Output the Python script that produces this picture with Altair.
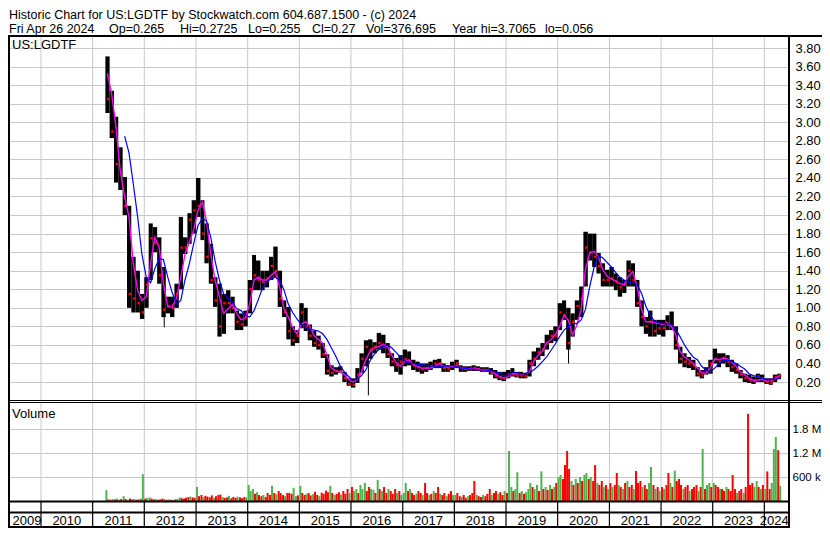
import altair as alt
import pandas as pd

FONT = "Liberation Sans"

# ---------------- monthly price bars, Apr 2011 .. Apr 2024 ----------------
first_month = "2011-04-01"
last_day = "2024-04-27"

price_high = [
    3.71, 3.34, 3.06, 2.73, 2.41, 2.10, 1.55, 1.40, 1.15,                      # 2011 Apr-Dec
    1.33, 1.91, 1.87, 1.76, 1.44, 1.12, 1.12, 1.26, 1.98, 1.76, 2.02, 2.16,    # 2012
    2.40, 2.16, 1.91, 1.69, 1.33, 1.26, 1.15, 1.19, 1.12, 0.97, 0.94, 0.97,    # 2013
    1.30, 1.57, 1.51, 1.40, 1.40, 1.55, 1.66, 1.40, 1.08, 1.01, 0.80, 0.76,    # 2014
    1.05, 1.00, 0.82, 0.75, 0.70, 0.62, 0.50, 0.38, 0.36, 0.37, 0.31, 0.24,    # 2015
    0.24, 0.35, 0.51, 0.65, 0.66, 0.63, 0.73, 0.71, 0.62, 0.51, 0.46, 0.49,    # 2016
    0.55, 0.53, 0.44, 0.42, 0.40, 0.40, 0.42, 0.44, 0.45, 0.40, 0.38, 0.42,    # 2017
    0.44, 0.38, 0.37, 0.37, 0.38, 0.37, 0.36, 0.36, 0.35, 0.33, 0.31, 0.31,    # 2018
    0.33, 0.35, 0.31, 0.31, 0.30, 0.44, 0.53, 0.57, 0.62, 0.71, 0.76, 0.80,    # 2019
    1.05, 1.08, 1.00, 0.94, 1.08, 1.23, 1.82, 1.80, 1.80, 1.59, 1.48, 1.41,    # 2020
    1.44, 1.37, 1.33, 1.30, 1.51, 1.48, 1.30, 1.08, 0.90, 0.97, 0.87, 0.87,    # 2021
    0.87, 0.92, 0.96, 0.80, 0.58, 0.51, 0.47, 0.44, 0.36, 0.33, 0.36, 0.44,    # 2022
    0.56, 0.51, 0.51, 0.49, 0.44, 0.40, 0.33, 0.29, 0.28, 0.26, 0.29, 0.28,    # 2023
    0.24, 0.24, 0.28, 0.29,                                                    # 2024 Jan-Apr
]
price_low = [
    3.10, 2.83, 2.35, 2.27, 2.00, 1.00, 0.95, 0.95, 0.88,
    1.00, 1.30, 1.60, 1.26, 0.90, 0.94, 0.90, 1.00, 1.20, 1.58, 1.69, 1.80,
    1.98, 1.73, 1.48, 1.26, 1.01, 0.69, 0.72, 0.94, 0.94, 0.76, 0.76, 0.80,
    0.94, 1.19, 1.19, 1.19, 1.22, 1.30, 1.33, 1.01, 0.90, 0.66, 0.59, 0.62,
    0.78, 0.75, 0.65, 0.58, 0.55, 0.46, 0.28, 0.26, 0.28, 0.30, 0.20, 0.16,
    0.14, 0.19, 0.30, 0.37, 0.45, 0.51, 0.55, 0.51, 0.46, 0.37, 0.31, 0.28,
    0.37, 0.38, 0.33, 0.31, 0.29, 0.31, 0.33, 0.35, 0.35, 0.31, 0.31, 0.33,
    0.35, 0.31, 0.31, 0.32, 0.32, 0.32, 0.31, 0.31, 0.28, 0.24, 0.22, 0.21,
    0.24, 0.26, 0.25, 0.24, 0.24, 0.26, 0.37, 0.44, 0.48, 0.55, 0.62, 0.64,
    0.76, 0.87, 0.55, 0.69, 0.87, 0.90, 1.23, 1.51, 1.44, 1.37, 1.23, 1.23,
    1.23, 1.19, 1.12, 1.16, 1.23, 1.23, 1.01, 0.80, 0.72, 0.69, 0.69, 0.71,
    0.69, 0.76, 0.76, 0.55, 0.40, 0.36, 0.35, 0.33, 0.26, 0.24, 0.28, 0.29,
    0.40, 0.36, 0.40, 0.36, 0.31, 0.29, 0.24, 0.20, 0.19, 0.18, 0.20, 0.20,
    0.18, 0.17, 0.20, 0.23,
]
price_close = [
    3.25, 2.90, 2.55, 2.45, 2.10, 1.15, 1.10, 1.05, 0.95,
    1.25, 1.75, 1.70, 1.35, 0.98, 1.02, 1.00, 1.15, 1.65, 1.65, 1.95, 2.05,
    2.10, 1.80, 1.55, 1.30, 1.08, 0.80, 1.05, 1.05, 1.00, 0.85, 0.82, 0.90,
    1.20, 1.35, 1.30, 1.28, 1.32, 1.45, 1.40, 1.10, 0.95, 0.75, 0.65, 0.70,
    0.95, 0.80, 0.70, 0.62, 0.60, 0.50, 0.32, 0.30, 0.32, 0.32, 0.24, 0.18,
    0.17, 0.28, 0.45, 0.58, 0.55, 0.58, 0.62, 0.58, 0.50, 0.42, 0.38, 0.42,
    0.45, 0.42, 0.38, 0.36, 0.34, 0.35, 0.37, 0.40, 0.40, 0.35, 0.34, 0.37,
    0.40, 0.35, 0.34, 0.34, 0.35, 0.34, 0.33, 0.33, 0.30, 0.27, 0.25, 0.24,
    0.28, 0.29, 0.27, 0.27, 0.26, 0.40, 0.45, 0.52, 0.55, 0.62, 0.70, 0.70,
    0.95, 0.92, 0.62, 0.85, 1.02, 1.10, 1.65, 1.60, 1.55, 1.45, 1.30, 1.30,
    1.32, 1.28, 1.22, 1.25, 1.40, 1.30, 1.05, 0.90, 0.80, 0.85, 0.75, 0.78,
    0.78, 0.82, 0.80, 0.60, 0.45, 0.42, 0.40, 0.38, 0.29, 0.27, 0.32, 0.40,
    0.45, 0.42, 0.46, 0.42, 0.36, 0.33, 0.28, 0.24, 0.22, 0.21, 0.26, 0.24,
    0.20, 0.19, 0.25, 0.27,
]
# magenta (short) moving average, mid-month readings
ma_fast = [
    3.53, 3.31, 2.95, 2.48, 2.20, 1.98, 1.48, 1.19, 1.08,
    1.12, 1.48, 1.76, 1.66, 1.26, 1.01, 1.01, 1.10, 1.33, 1.58, 1.71, 1.84,
    2.05, 2.14, 1.94, 1.58, 1.30, 1.12, 0.94, 0.99, 1.04, 0.94, 0.87, 0.89,
    1.04, 1.30, 1.33, 1.30, 1.30, 1.35, 1.39, 1.22, 0.99, 0.90, 0.79, 0.72,
    0.82, 0.85, 0.80, 0.70, 0.66, 0.62, 0.49, 0.35, 0.32, 0.31, 0.28, 0.23,
    0.20, 0.23, 0.31, 0.44, 0.53, 0.57, 0.58, 0.61, 0.58, 0.49, 0.41, 0.37,
    0.42, 0.44, 0.39, 0.37, 0.35, 0.35, 0.35, 0.37, 0.40, 0.37, 0.36, 0.37,
    0.38, 0.35, 0.35, 0.34, 0.34, 0.34, 0.33, 0.33, 0.32, 0.29, 0.26, 0.24,
    0.26, 0.29, 0.29, 0.29, 0.29, 0.31, 0.42, 0.49, 0.53, 0.62, 0.66, 0.71,
    0.80, 0.92, 0.87, 0.71, 0.81, 0.98, 1.41, 1.59, 1.61, 1.55, 1.41, 1.34,
    1.31, 1.29, 1.26, 1.25, 1.34, 1.39, 1.23, 0.99, 0.85, 0.85, 0.84, 0.83,
    0.82, 0.84, 0.80, 0.71, 0.53, 0.47, 0.44, 0.40, 0.35, 0.30, 0.29, 0.35,
    0.45, 0.44, 0.46, 0.45, 0.41, 0.37, 0.31, 0.28, 0.24, 0.22, 0.22, 0.23,
    0.21, 0.21, 0.23, 0.27,
]
# blue (long) moving average, mid-month readings (starts Aug 2011)
ma_slow = [
    None, None, None, None, 2.85, 2.67, 2.34, 1.98, 1.58,
    1.33, 1.27, 1.42, 1.53, 1.52, 1.33, 1.17, 1.04, 1.08, 1.30, 1.48, 1.69,
    1.89, 1.96, 1.94, 1.76, 1.51, 1.30, 1.15, 1.10, 1.06, 0.99, 0.97, 0.92,
    0.90, 0.97, 1.08, 1.21, 1.28, 1.31, 1.33, 1.30, 1.19, 1.04, 0.95, 0.88,
    0.82, 0.79, 0.77, 0.76, 0.75, 0.72, 0.66, 0.57, 0.48, 0.38, 0.31, 0.26,
    0.22, 0.23, 0.27, 0.33, 0.43, 0.50, 0.55, 0.58, 0.60, 0.57, 0.52, 0.47,
    0.43, 0.41, 0.40, 0.39, 0.39, 0.38, 0.37, 0.37, 0.36, 0.37, 0.37, 0.38,
    0.37, 0.35, 0.35, 0.34, 0.34, 0.33, 0.33, 0.33, 0.32, 0.31, 0.30, 0.27,
    0.27, 0.30, 0.30, 0.29, 0.29, 0.30, 0.33, 0.37, 0.42, 0.47, 0.54, 0.61,
    0.69, 0.76, 0.80, 0.83, 0.83, 0.87, 0.98, 1.23, 1.44, 1.56, 1.54, 1.49,
    1.44, 1.38, 1.33, 1.30, 1.28, 1.27, 1.25, 1.16, 1.02, 0.92, 0.86, 0.84,
    0.83, 0.83, 0.82, 0.77, 0.69, 0.60, 0.53, 0.47, 0.44, 0.37, 0.33, 0.31,
    0.35, 0.40, 0.43, 0.44, 0.42, 0.40, 0.37, 0.34, 0.29, 0.27, 0.26, 0.24,
    0.23, 0.23, 0.23, 0.24,
]
# isolated single-day wicks
spike_dates = ["2012-05-21", "2016-05-03", "2020-03-18"]
spike_low = [0.79, 0.056, 0.40]
spike_high = [1.00, 0.50, 0.72]

# ---------------- volume, half-month readings (thousands), G=up R=down ----------------
vol_2011 = [270, 40, 30, 50, 40, 60, 30, 50, 120, 50, 30, 60, 40, 50, 30, 40, 60, 670]
col_2011 = "GRRGRGRRGRGRRGRRGG"
vol_2012 = [60, 80, 90, 60, 40, 50, 30, 40, 60, 50, 30, 40, 30, 30, 40, 50, 90, 70, 60, 80, 100, 110, 90, 80]
col_2012 = "RGGRRGRRRGRGRGRGGRRRRGRR"
vol_2013 = [350, 120, 150, 100, 130, 110, 90, 140, 80, 120, 150, 160, 100, 80, 90, 130, 70, 100, 80, 110, 90, 70, 100, 90]
col_2013 = "GRRGRRRRGRRRGRRGRRRGRRRG"
vol_2014 = [400, 250, 300, 180, 220, 150, 120, 150, 100, 200, 150, 380, 200, 170, 250, 200, 150, 120, 200, 200, 180, 330, 120, 140]
col_2014 = "GGGRGRRGRRRGRGRRRGRRRGGR"
vol_2015 = [380, 200, 150, 180, 200, 140, 170, 230, 150, 120, 210, 180, 260, 220, 380, 200, 150, 180, 220, 160, 250, 180, 300, 200]
col_2015 = "GRRGRRGRRGRRRRGRGRRGRRRG"
vol_2016 = [350, 250, 300, 200, 400, 300, 450, 250, 350, 300, 280, 200, 530, 300, 250, 350, 200, 300, 250, 180, 300, 200, 250, 150]
col_2016 = "RGGRGGGRRGGRGRGRRGRRRGRG"
vol_2017 = [200, 450, 250, 300, 200, 150, 180, 250, 200, 150, 450, 200, 150, 180, 250, 200, 350, 180, 150, 200, 120, 180, 250, 150]
col_2017 = "GGRGRRGRRGRRGRGRRGRRGRRG"
vol_2018 = [150, 200, 120, 100, 150, 80, 120, 150, 200, 500, 150, 120, 100, 150, 120, 180, 300, 150, 200, 250, 180, 220, 150, 250]
col_2018 = "GRRGRRGRRRGRRGRRRGRRGRRG"
vol_2019 = [200, 1250, 350, 250, 300, 720, 200, 250, 180, 220, 300, 450, 350, 300, 400, 250, 740, 300, 350, 280, 400, 300, 350, 450]
col_2019 = "RGGRGGRGRGGGRGGRGRGRGRGR"
vol_2020 = [600, 650, 550, 900, 1250, 800, 500, 400, 550, 450, 600, 500, 650, 700, 550, 600, 500, 900, 450, 400, 500, 350, 400, 300]
col_2020 = "GGRRRRGRGRGRGGRGRRGRRGRG"
vol_2021 = [450, 350, 400, 700, 400, 350, 300, 450, 500, 350, 400, 300, 750, 450, 500, 350, 400, 300, 450, 850, 400, 300, 350, 250]
col_2021 = "RGRRGRGRGRRGRRRGRRGGRGRG"
vol_2022 = [350, 300, 400, 700, 450, 350, 760, 500, 550, 400, 300, 350, 400, 250, 300, 350, 400, 250, 350, 1300, 300, 400, 450, 350]
col_2022 = "RGRRGRGRRRGRRGRRRGRGRGGR"
vol_2023 = [450, 400, 350, 300, 300, 250, 350, 300, 250, 650, 300, 200, 250, 300, 200, 350, 2180, 400, 450, 350, 500, 350, 300, 400]
col_2023 = "GRRGRRGRRRRGRRGRRRRGGRGR"
vol_2024 = [300, 740, 300, 450, 1300, 1600, 1270, 380]
col_2024 = "GRRGGGRG"

# ---------------- labels ----------------
header_1 = "Historic Chart for US:LGDTF by Stockwatch.com 604.687.1500 - (c) 2024"
header_2_parts = ["Fri Apr 26 2024", "Op=0.265", "Hi=0.2725", "Lo=0.255", "Cl=0.27",
                  "Vol=376,695", "Year hi=3.7065", "lo=0.056"]
header_2_x = [1, 101, 172, 240, 304, 358, 444, 537]
symbol_label = "US:LGDTF"
volume_label = "Volume"
price_ticks = [0.2, 0.4, 0.6, 0.8, 1.0, 1.2, 1.4, 1.6, 1.8, 2.0, 2.2, 2.4, 2.6, 2.8, 3.0, 3.2, 3.4, 3.6, 3.8]
volume_ticks = [600000, 1200000, 1800000]
year_labels = list(range(2009, 2025))

# ---------------- frames ----------------
months = pd.date_range(first_month, periods=len(price_high), freq="MS")
ends = list(months[1:]) + [pd.Timestamp(last_day)]
price_df = pd.DataFrame({
    "start": months,
    "end": ends,
    "mid": months + pd.Timedelta(days=14),
    "cx": months + pd.Timedelta(days=20),
    "high": price_high,
    "low": price_low,
    "close": price_close,
    "ma_fast": ma_fast,
    "ma_slow": ma_slow,
})
spike_df = pd.DataFrame({"t": pd.to_datetime(spike_dates), "lo": spike_low, "hi": spike_high})

vol_sets = [
    (2011, 4, vol_2011, col_2011), (2012, 1, vol_2012, col_2012), (2013, 1, vol_2013, col_2013),
    (2014, 1, vol_2014, col_2014), (2015, 1, vol_2015, col_2015), (2016, 1, vol_2016, col_2016),
    (2017, 1, vol_2017, col_2017), (2018, 1, vol_2018, col_2018), (2019, 1, vol_2019, col_2019),
    (2020, 1, vol_2020, col_2020), (2021, 1, vol_2021, col_2021), (2022, 1, vol_2022, col_2022),
    (2023, 1, vol_2023, col_2023), (2024, 1, vol_2024, col_2024),
]
rows = []
for yr, m0, vols, cols in vol_sets:
    for i, (v, c) in enumerate(zip(vols, cols)):
        mon = m0 + i // 2
        day = 8 if i % 2 == 0 else 22
        rows.append({"t": pd.Timestamp(yr, mon, day), "vol": v * 1000, "dir": c})
vol_df = pd.DataFrame(rows)

dom_start = pd.Timestamp("2009-06-17")
dom_end = pd.Timestamp("2024-05-19")
bounds_df = pd.DataFrame({"t": pd.date_range("2010-01-01", "2024-01-01", freq="YS")})
yl = []
for y in year_labels:
    a = max(pd.Timestamp(y, 1, 1), dom_start)
    b = min(pd.Timestamp(y + 1, 1, 1), dom_end)
    yl.append({"tc": a + (b - a) / 2, "label": str(y)})
year_df = pd.DataFrame(yl)

one = alt.Data(values=[{"k": 1}])

# ---------------- scales / axes ----------------
xsc = alt.Scale(domain=[alt.DateTime(year=2009, month=6, date=17),
                        alt.DateTime(year=2024, month=5, date=19)], nice=False)
ysc = alt.Scale(domain=[0, 4], range=[392.6, 21.5], nice=False, zero=False)
vsc = alt.Scale(domain=[0, 2400000], range=[493, 397], nice=False)

axis_common = dict(orient="right", grid=True, gridColor="#c8c8c8", gridWidth=1, gridOpacity=1,
                   domain=False, ticks=False, tickSize=0,
                   labelFont=FONT, labelColor="black", title=None, labelBaseline="middle")
price_axis = alt.Axis(values=price_ticks, format=".2f", labelPadding=6, labelFontSize=13, **axis_common)
vol_axis = alt.Axis(values=volume_ticks, labelPadding=3, labelFontSize=11.5,
                    labelExpr="datum.value >= 1000000 ? format(datum.value / 1000000, '.1f') + ' M' : format(datum.value / 1000, 'd') + ' k'",
                    **axis_common)

X = lambda f: alt.X(f, scale=xsc, axis=None)

# ---------------- grid lines (year boundaries) ----------------
vgrid_price = alt.Chart(bounds_df).mark_rule(color="#c8c8c8", strokeWidth=1).encode(
    x=X("t:T"), y=alt.value(29), y2=alt.value(392))
vgrid_vol = alt.Chart(bounds_df).mark_rule(color="#c8c8c8", strokeWidth=1).encode(
    x=X("t:T"), y=alt.value(395), y2=alt.value(493))
vgrid_rows = alt.Chart(bounds_df).mark_rule(color="black", strokeWidth=1.2).encode(
    x=X("t:T"), y=alt.value(494), y2=alt.value(519))

# ---------------- price panel ----------------
bars = alt.Chart(price_df).mark_rect(color="black").encode(
    x=X("start:T"), x2="end:T", y=alt.Y("low:Q", scale=ysc, axis=price_axis), y2="high:Q")
spikes = alt.Chart(spike_df).mark_rule(color="black", strokeWidth=1).encode(
    x=X("t:T"), y=alt.Y("lo:Q", scale=ysc, axis=price_axis), y2="hi:Q")
closes = alt.Chart(price_df).mark_square(color="#ff0000", size=6, filled=True, opacity=1).encode(
    x=X("cx:T"), y=alt.Y("close:Q", scale=ysc, axis=price_axis))
fast = alt.Chart(price_df).mark_line(color="#ff00ff", strokeWidth=1.4).encode(
    x=X("mid:T"), y=alt.Y("ma_fast:Q", scale=ysc, axis=price_axis))
slow = alt.Chart(price_df).mark_line(color="#0000ff", strokeWidth=1.2).encode(
    x=X("mid:T"), y=alt.Y("ma_slow:Q", scale=ysc, axis=price_axis))
price_group = alt.layer(bars, spikes, closes, fast, slow)

# ---------------- volume panel ----------------
vbars = alt.Chart(vol_df).mark_bar(size=2).encode(
    x=X("t:T"), y=alt.Y("vol:Q", scale=vsc, axis=vol_axis),
    color=alt.Color("dir:N", scale=alt.Scale(domain=["G", "R"], range=["#4db34d", "#ff0000"]), legend=None))
vol_group = alt.layer(vbars)

# ---------------- frame lines ----------------
def hline(y, x1, x2, w):
    return alt.Chart(one).mark_rule(color="black", strokeWidth=w).encode(
        x=alt.value(x1), x2=alt.value(x2), y=alt.value(y))

def vline(x, y1, y2, w):
    return alt.Chart(one).mark_rule(color="black", strokeWidth=w).encode(
        x=alt.value(x), y=alt.value(y1), y2=alt.value(y2))

frame = [
    hline(28, 0, 830, 2), hline(392.5, 0, 830, 1), hline(394.5, 0, 830, 1),
    hline(493.5, 0, 781, 2), hline(504.5, 0, 781, 2), hline(519, 0, 781, 2),
    vline(1, 28, 520, 2), vline(781, 28, 520, 2),
]

def label(txt, x, y, size=13, align="left"):
    return alt.Chart(one).mark_text(align=align, baseline="alphabetic", font=FONT,
                                    fontSize=size, color="black").encode(
        x=alt.value(x), y=alt.value(y), text=alt.value(txt))

texts = [label(header_1, 1, 11, 12.5)]
texts += [label(t, x, 25, 12.5) for t, x in zip(header_2_parts, header_2_x)]
texts += [label(symbol_label, 4, 41), label(volume_label, 4, 410)]
years = alt.Chart(year_df).mark_text(align="center", baseline="alphabetic", font=FONT,
                                     fontSize=13, color="black").encode(
    x=X("tc:T"), y=alt.value(516.5), text="label:N")

chart = alt.layer(
    vgrid_price, vgrid_vol, vgrid_rows, price_group, vol_group, *frame, *texts, years
).resolve_scale(y="independent").resolve_axis(y="independent").properties(
    width=781, height=520,
    autosize=alt.AutoSizeParams(type="none"),
    padding={"left": 0, "top": 0, "right": 33, "bottom": 0},
    background="white",
).configure_view(strokeWidth=0)

chart.save("out.html", embed_options={"renderer": "svg", "actions": False})
